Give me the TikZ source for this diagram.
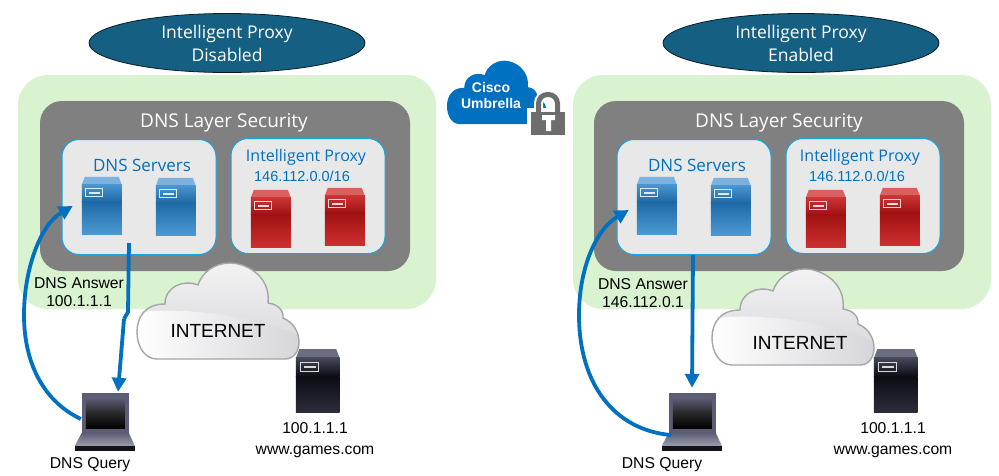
\documentclass[tikz,border=0pt]{standalone}
\usepackage{fontspec}
\setmainfont{Liberation Sans}
\newfontfamily\labelfont{Open Sans}
\usetikzlibrary{arrows.meta, positioning, shapes.geometric}

\definecolor{panelgreen}{HTML}{D9F2D0}
\definecolor{panelgray}{HTML}{808080}
\definecolor{boxgray}{HTML}{E8E8E8}
\definecolor{boxline}{HTML}{17A3E0}
\definecolor{flowblue}{HTML}{0070C0}
\definecolor{titleblue}{HTML}{156082}
\definecolor{blue1}{HTML}{7DB1DE}
\definecolor{blue2}{HTML}{4A94CF}
\definecolor{blue3}{HTML}{1F6AA6}
\definecolor{blue4}{HTML}{4C9AD4}
\definecolor{red1}{HTML}{D9605F}
\definecolor{red2}{HTML}{CC3333}
\definecolor{red3}{HTML}{A01212}
\definecolor{red4}{HTML}{CF3030}
\definecolor{dark1}{HTML}{6B6D80}
\definecolor{dark2}{HTML}{45475A}
\definecolor{dark3}{HTML}{0C0C12}
\definecolor{dark4}{HTML}{2C2D3A}
\definecolor{lapframe}{HTML}{5B5D75}
\definecolor{cloudlight}{HTML}{F3F3F4}
\definecolor{clouddark}{HTML}{D5D5D9}
\definecolor{cloudline}{HTML}{A6A6A8}

% name, centre x, centre y, then top, band, dark and lower colours, then scale
\newcommand{\serverbox}[8]{
  \node[srvnode, scale=#8] (#1) at (#2,#3) {};
  \begin{scope}[shift={(#1.north west)}, scale=#8]
    \fill[#4] (3,0) -- (37,0) -- (40,8) -- (0,8) -- cycle;
    \shade[top color=#5, bottom color=#6] (0,8) rectangle (40,25);
    \shade[top color=#6, middle color=#5, bottom color=#7] (0,25) rectangle (40,58);
    \draw[white!80!#5, line width=.9pt] (4,12) rectangle (21,20);
    \fill[white!80!#5] (7,15) rectangle (18,17);
  \end{scope}
}
\newcommand{\laptopbox}[3]{
  \node[lapnode] (#1) at (#2,#3) {};
  \begin{scope}[shift={(#1.north west)}]
    \fill[lapframe] (7,0) rectangle (54,40);
    \shade[top color=lapframe, bottom color=black, middle color=black!85] (11,5) rectangle (50,36);
    \shade[top color=lapframe, bottom color=lapframe!60] (7,40) -- (54,40) -- (60,53) -- (0,53) -- cycle;
    \fill[black!80!lapframe] (0,53) rectangle (60,58);
  \end{scope}
}
\newcommand{\cloudpath}{
  (20,97) -- (148,97) .. controls (166,97) and (168,65) .. (146,56)
  .. controls (147,48) and (140,42) .. (131,41)
  .. controls (134,15) and (110,1) .. (93,1)
  .. controls (78,1) and (65,10) .. (61,23)
  .. controls (46,17) and (28,25) .. (28,42)
  .. controls (8,42) and (0,55) .. (0,70)
  .. controls (0,85) and (8,97) .. (20,97) -- cycle
}
\newcommand{\inetcloud}[2]{
  \begin{scope}[shift={(#1,#2)}]
    \shade[top color=cloudlight, bottom color=clouddark] \cloudpath;
    \begin{scope}
      \clip \cloudpath;
      \shade[left color=white, right color=clouddark] (0,50) .. controls (60,45) and (120,55) .. (165,75) -- (165,100) -- (0,100) -- cycle;
    \end{scope}
    \draw[cloudline, line width=1.4pt] \cloudpath;
  \end{scope}
}

\begin{document}
\begin{tikzpicture}[
  x=1pt, y=-1pt,
  greenbox/.style={fill=panelgreen, rounded corners=30pt, minimum width=418pt, minimum height=234pt, inner sep=0pt},
  graybox/.style={fill=panelgray, rounded corners=22pt, minimum width=370pt, minimum height=170pt, inner sep=0pt},
  subbox/.style={fill=boxgray, draw=boxline, line width=1pt, rounded corners=17pt, minimum width=154pt, minimum height=115pt, inner sep=0pt},
  titleoval/.style={ellipse, draw=black!70!titleblue, fill=titleblue, line width=.8pt, minimum width=276pt, minimum height=59pt, inner sep=0pt, align=center, text=white, font=\labelfont\fontsize{17.5}{23}\selectfont},
  layertext/.style={text=white, inner sep=0pt, font=\labelfont\fontsize{19}{22}\selectfont},
  subtext/.style={text=flowblue, inner sep=0pt, font=\labelfont\fontsize{17}{20}\selectfont},
  proxytext/.style={text=flowblue, inner sep=0pt, font=\labelfont\fontsize{16}{20}\selectfont},
  nettext/.style={text=flowblue, inner sep=0pt, font=\fontsize{14.5}{17}\selectfont},
  plain/.style={inner sep=0pt, align=center, font=\fontsize{15.7}{18.5}\selectfont},
  inettext/.style={inner sep=0pt, font=\fontsize{19}{22}\selectfont},
  srvnode/.style={minimum width=40pt, minimum height=58pt, inner sep=0pt},
  lapnode/.style={minimum width=60pt, minimum height=58pt, inner sep=0pt},
  flow/.style={draw=flowblue, line width=3.8pt, -{Stealth[length=14pt, width=14pt, inset=0pt]}}
]
\useasboundingbox (0,0) rectangle (999,475);

% left side
\node[greenbox] (greenL) at (227,192) {};
\node[graybox] (grayL) at (225,186) {};
\node[subbox] (dnsL) at (139,197) {};
\node[subbox] (proxyL) at (308,196) {};
\node[titleoval] (titleL) at (227,43) {Intelligent Proxy\\Disabled};
\node[layertext] (layerL) at (224,123) {DNS Layer Security};
\node[subtext] (dnsTextL) at (142,165) {DNS Servers};
\node[proxytext] (proxyTextL) at (306,157) {Intelligent Proxy};
\node[nettext, below=6pt of proxyTextL, xshift=-4pt] (netL) {146.112.0.0/16};
\serverbox{srvL1}{102}{206}{blue1}{blue2}{blue3}{blue4}{1}
\serverbox{srvL2}{176}{207}{blue1}{blue2}{blue3}{blue4}{1}
\serverbox{redL1}{271}{219}{red1}{red2}{red3}{red4}{1}
\serverbox{redL2}{345}{217}{red1}{red2}{red3}{red4}{1}
\inetcloud{137}{262}
\node[inettext] (inetL) at (218,331) {INTERNET};
\serverbox{webL}{318}{381}{dark1}{dark2}{dark3}{dark4}{1.09}
\laptopbox{lapL}{105}{422}
\node[plain, below=9.5pt of webL, xshift=-3pt] (webTextL) {100.1.1.1\\[2.5pt]www.games.com};
\node[plain] (queryL) at (90,465) {DNS Query};
\node[plain] (answerL) at (79,292) {DNS Answer\\100.1.1.1};
\coordinate (startL) at (129,243);
\draw[flow] (lapL.west) ++(6,-3) .. controls (45,402) and (24,365) .. (24,315)
  .. controls (24,270) and (40,225) .. ([xshift=-9pt]srvL1.west);
\draw[flow, -] (startL) -- (128,312) -- (124,319);
\draw[flow] (124,319) -- ([xshift=13pt, yshift=1pt]lapL.north);

% middle
\fill[flowblue, shift={(447,60)}, xscale=.617, yscale=.66] \cloudpath;
\node[inner sep=0pt, align=center, text=white, font=\bfseries\fontsize{14}{16}\selectfont] (umbrella) at (491,95) {Cisco\\Umbrella};
\fill[white] (527,108) rectangle (569,139);
\draw[white, line width=9pt, rounded corners=9pt] (538.5,112) -- (538.5,94.5) -- (557.5,94.5) -- (557.5,112);
\draw[panelgray!85!black, line width=5pt, rounded corners=9pt] (538.5,114) -- (538.5,94.5) -- (557.5,94.5) -- (557.5,114);
\fill[panelgray!85!black] (531,112) rectangle (565,135);
\fill[white] (542,115) rectangle (555,120) (546,115) rectangle (551,131);

% right side
\node[greenbox] (greenR) at (782,192) {};
\node[graybox] (grayR) at (779,186) {};
\node[subbox] (dnsR) at (694,197) {};
\node[subbox] (proxyR) at (863,196) {};
\node[titleoval] (titleR) at (801,43) {Intelligent Proxy\\Enabled};
\node[layertext] (layerR) at (779,123) {DNS Layer Security};
\node[subtext] (dnsTextR) at (697,165) {DNS Servers};
\node[proxytext] (proxyTextR) at (860,157) {Intelligent Proxy};
\node[nettext, below=6pt of proxyTextR, xshift=-3pt] (netR) {146.112.0.0/16};
\serverbox{srvR1}{657}{206}{blue1}{blue2}{blue3}{blue4}{1}
\serverbox{srvR2}{731}{207}{blue1}{blue2}{blue3}{blue4}{1}
\serverbox{redR1}{826}{219}{red1}{red2}{red3}{red4}{1}
\serverbox{redR2}{900}{217}{red1}{red2}{red3}{red4}{1}
\inetcloud{712}{268}
\node[inettext] (inetR) at (800,343) {INTERNET};
\serverbox{webR}{896}{381}{dark1}{dark2}{dark3}{dark4}{1.09}
\laptopbox{lapR}{692}{422}
\node[plain, below=9.5pt of webR, xshift=-3pt] (webTextR) {100.1.1.1\\[2.5pt]www.games.com};
\node[plain] (queryR) at (662,465) {DNS Query};
\node[plain] (answerR) at (643,293) {DNS Answer\\146.112.0.1};
\coordinate (startR) at (693,255);
\draw[flow] (lapR.west) ++(9,13) .. controls (615,430) and (579,385) .. (579,315)
  .. controls (579,270) and (595,230) .. ([xshift=-8pt, yshift=-4pt]srvR1.west);
\draw[flow] (startR) -- ([yshift=5pt]lapR.north);
\end{tikzpicture}
\end{document}
